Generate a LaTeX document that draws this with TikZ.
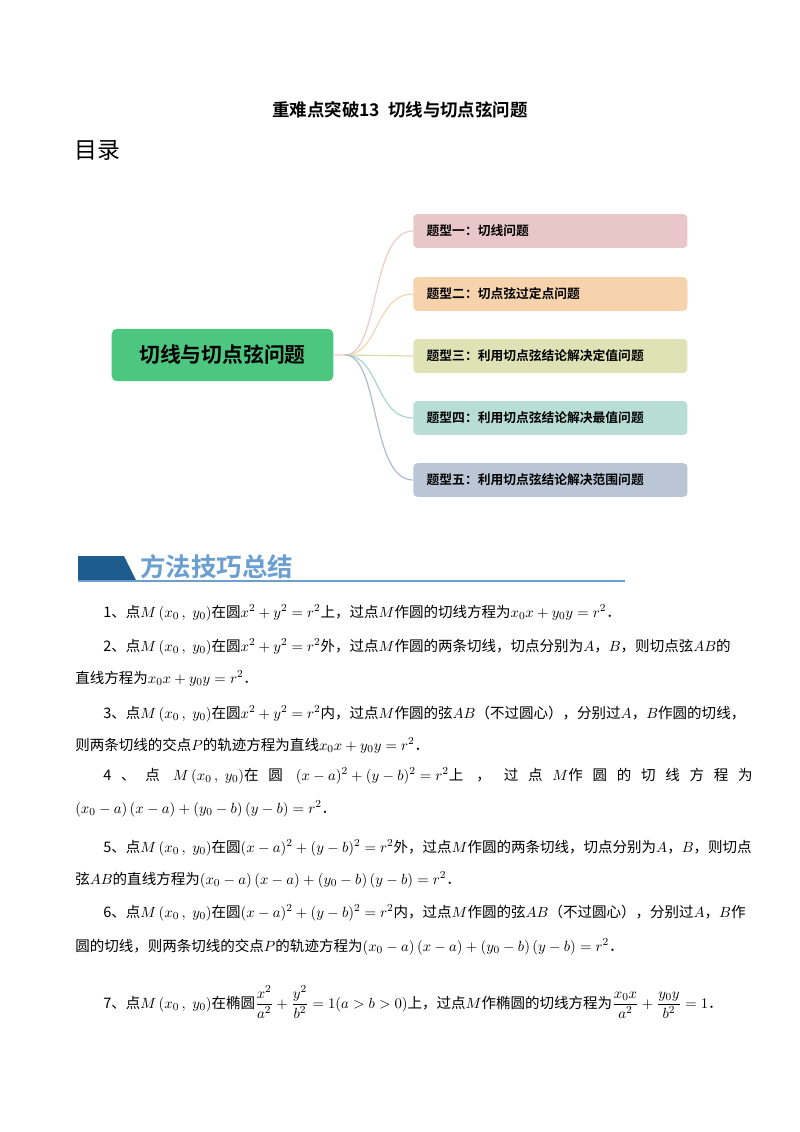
\documentclass[tikz,border=0pt]{standalone}
\usepackage{amsmath}
\usepackage{fontspec}
\newfontfamily\cjk{Noto Sans CJK SC}
\newfontfamily\cjkb{Noto Sans CJK SC Bold}
\begin{document}
\begin{tikzpicture}[x=0.744pt,y=-0.744pt,
  txt/.style={anchor=base west,inner sep=0pt,font=\cjk\fontsize{10.8}{12}\selectfont},
  br/.style={draw=none,rounded corners=3pt,minimum width=204pt,minimum height=25pt,anchor=west,inner xsep=10pt,text width=184pt,font=\cjkb\fontsize{9.5}{11}\selectfont},
  link/.style={line width=0.9pt}]
\useasboundingbox (0,0) rectangle (800,1132);
\definecolor{g1}{HTML}{4DC77F}
\definecolor{c1}{HTML}{E9C6C7}\definecolor{l1}{HTML}{F0C8C8}
\definecolor{c2}{HTML}{F6D3AC}\definecolor{l2}{HTML}{F5D6B2}
\definecolor{c3}{HTML}{DFE2B5}\definecolor{l3}{HTML}{D9DDA8}
\definecolor{c4}{HTML}{B8DDD5}\definecolor{l4}{HTML}{A9D6CC}
\definecolor{c5}{HTML}{BAC6D5}\definecolor{l5}{HTML}{AFBCCF}
\node[font=\cjkb\fontsize{13}{15}\selectfont] (title) at (400,110) {重难点突破13\ \ 切线与切点弦问题};
\node[anchor=west,inner sep=0pt,font=\cjk\fontsize{17}{20}\selectfont] (ml) at (74,150) {目录};
\node[fill=g1,rounded corners=4pt,minimum width=165pt,minimum height=39pt,font=\cjkb\fontsize{15.5}{18}\selectfont] (root) at (222.5,355) {切线与切点弦问题};
\coordinate (o) at (345,355);
\node[br,fill=c1] (b1) at (413,231) {题型一：切线问题};
\node[br,fill=c2] (b2) at (413,294) {题型二：切点弦过定点问题};
\node[br,fill=c3] (b3) at (413,356) {题型三：利用切点弦结论解决定值问题};
\node[br,fill=c4] (b4) at (413,418) {题型四：利用切点弦结论解决最值问题};
\node[br,fill=c5] (b5) at (413,480) {题型五：利用切点弦结论解决范围问题};
\draw[link,draw=l1] (root.east) -- (o) .. controls (380,355) and (370,231) .. (b1.west);
\draw[link,draw=l2] (o) .. controls (380,355) and (375,294) .. (b2.west);
\draw[link,draw=l3] (o) -- (b3.west);
\draw[link,draw=l4] (o) .. controls (380,355) and (375,418) .. (b4.west);
\draw[link,draw=l5] (o) .. controls (380,355) and (370,480) .. (b5.west);
% header
\definecolor{hb}{HTML}{1F5C8E}\definecolor{ht}{HTML}{6A9FD0}
\fill[hb] (78,556) -- (124,556) -- (136,580) -- (78,580) -- cycle;
\node[anchor=west,inner sep=0pt,text=ht,font=\cjkb\fontsize{19}{22}\selectfont] (hdr) at (140,567) {方法技巧总结};
\draw[ht,line width=1pt] (78,581) -- (625,581);
% body
\node[txt] (l1) at (103,617) {1、点$M\left(x_0\,,\;y_0\right)$在圆$x^2+y^2=r^2$上，过点$M$作圆的切线方程为$x_0x+y_0y=r^2$．};
\node[txt] (l2) at (103,651) {2、点$M\left(x_0\,,\;y_0\right)$在圆$x^2+y^2=r^2$外，过点$M$作圆的两条切线，切点分别为$A$，$B$，则切点弦$AB$的};
\node[txt] (l2b) at (75,683) {直线方程为$x_0x+y_0y=r^2$．};
\node[txt] (l3) at (103,718) {3、点$M\left(x_0\,,\;y_0\right)$在圆$x^2+y^2=r^2$内，过点$M$作圆的弦$AB$（不过圆心），分别过$A$，$B$作圆的切线，};
\node[txt] (l3b) at (75,750) {则两条切线的交点$P$的轨迹方程为直线$x_0x+y_0y=r^2$．};
\node[txt] (l4) at (103,780) {4\ \ \ 、\ \ \ 点\ \ \ \ $M\left(x_0\,,\;y_0\right)$在\ \ \ 圆\ \ \ \ $(x-a)^2+(y-b)^2=r^2$上\ \ \ \ ，\ \ \ \ 过\ \ \ 点\ \ \ $M$作\ \ \ 圆\ \ \ 的\ \ \ 切\ \ \ 线\ \ \ 方\ \ \ 程\ \ \ 为};
\node[txt] (l4b) at (75,813) {$\left(x_0-a\right)(x-a)+\left(y_0-b\right)(y-b)=r^2$．};
\node[txt] (l5) at (103,852) {5、点$M\left(x_0\,,\;y_0\right)$在圆$(x-a)^2+(y-b)^2=r^2$外，过点$M$作圆的两条切线，切点分别为$A$，$B$，则切点};
\node[txt] (l5b) at (75,884) {弦$AB$的直线方程为$\left(x_0-a\right)(x-a)+\left(y_0-b\right)(y-b)=r^2$．};
\node[txt] (l6) at (103,917) {6、点$M\left(x_0\,,\;y_0\right)$在圆$(x-a)^2+(y-b)^2=r^2$内，过点$M$作圆的弦$AB$（不过圆心），分别过$A$，$B$作};
\node[txt] (l6b) at (75,951) {圆的切线，则两条切线的交点$P$的轨迹方程为$\left(x_0-a\right)(x-a)+\left(y_0-b\right)(y-b)=r^2$．};
\node[txt] (l7) at (103,1008) {7、点$M\left(x_0\,,\;y_0\right)$在椭圆$\dfrac{x^2}{a^2}+\dfrac{y^2}{b^2}=1(a>b>0)$上，过点$M$作椭圆的切线方程为$\dfrac{x_0x}{a^2}+\dfrac{y_0y}{b^2}=1$．};
\end{tikzpicture}
\end{document}
